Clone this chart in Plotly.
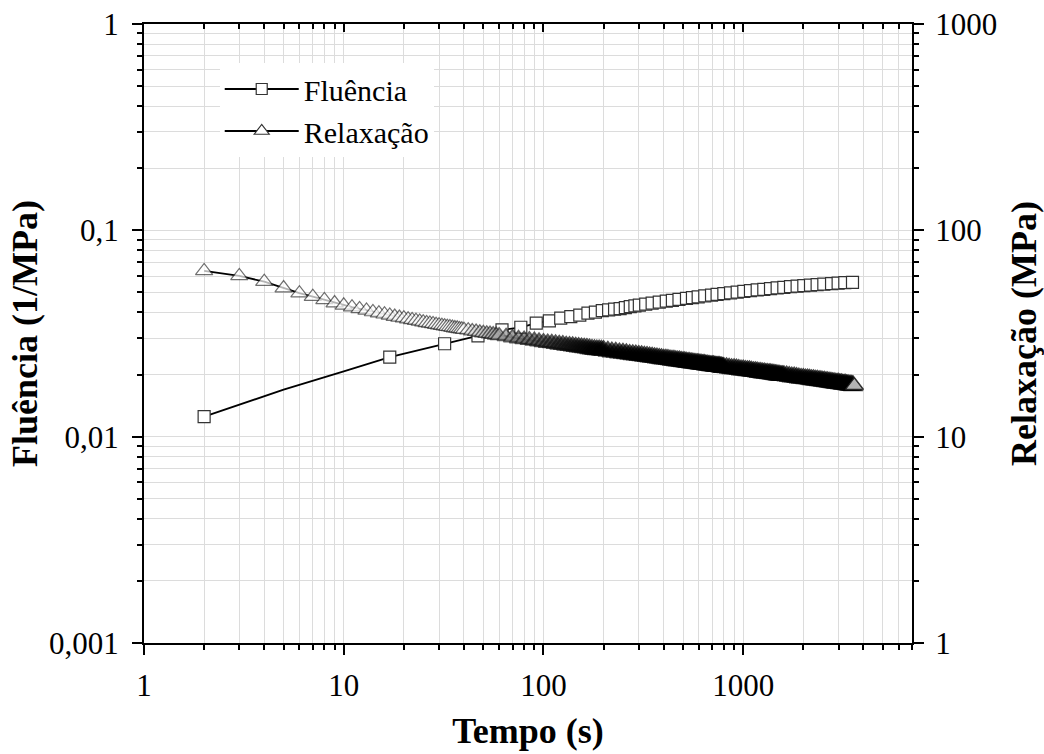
import math
import plotly.graph_objects as go

# ---------------- data ----------------
# Creep (Fluência) – marked points, left axis (1/MPa)
creep_t = [2, 17, 32, 47, 62, 77, 92, 107, 122, 137,
           152, 167, 182, 197, 212, 227, 242, 257, 272, 287,
           302, 325, 350, 380, 412, 442, 477, 520, 557, 595,
           642, 694, 740, 800, 864, 933, 1007, 1087, 1175, 1268,
           1370, 1479, 1597, 1725, 1862, 2011, 2172, 2345, 2533, 2769,
           2987, 3225, 3525]
creep_v = [0.0125, 0.0243, 0.0282, 0.0308, 0.0329, 0.0339, 0.0355, 0.0364, 0.0375, 0.0382,
           0.0388, 0.0397, 0.0401, 0.0408, 0.0412, 0.0415, 0.0417, 0.0422, 0.0427, 0.0430,
           0.0434, 0.0439, 0.0444, 0.0449, 0.0454, 0.0458, 0.0463, 0.0468, 0.0472, 0.0476,
           0.0481, 0.0485, 0.0489, 0.0494, 0.0498, 0.0502, 0.0506, 0.0510, 0.0514, 0.0518,
           0.0522, 0.0526, 0.0529, 0.0533, 0.0536, 0.0539, 0.0543, 0.0546, 0.0549, 0.0552,
           0.0555, 0.0558, 0.0560]
# extra unmarked points of the creep curve (line only)
creep_extra_t = [5, 10]
creep_extra_v = [0.0169, 0.0207]

# Relaxation (Relaxação) – right axis (MPa)
relax_t = [2, 3, 4, 5, 6, 7, 8, 9, 10,
           11, 12, 13, 14, 15, 16, 17, 18, 19, 20,
           21, 22, 23, 24, 25, 26, 27, 28, 29, 30,
           31, 32, 33, 34, 35, 36, 37, 38, 39, 40,
           42, 44, 46, 48, 50, 52, 54, 56, 58, 60,
           65, 70, 75, 80, 85, 90, 95, 100,
           105, 110, 115, 120, 125, 130, 135, 140, 145, 150,
           155, 160, 165, 170, 175, 180, 185, 190, 195, 200,
           210, 220, 230, 240, 250, 260, 270, 280, 290, 300,
           310, 320, 330, 340, 350, 360, 370, 380, 390, 400,
           410, 420, 430, 440, 450, 460, 470, 480, 490, 500,
           510, 520, 530, 540, 550, 560, 570, 580, 590, 600,
           610, 620, 630, 640, 650, 660, 670, 680, 690, 700,
           710, 720, 730, 740, 750, 760, 770, 780, 790, 800,
           825, 850, 875, 900, 925, 950, 975, 1000,
           1025, 1050, 1075, 1100, 1125, 1150, 1175, 1200,
           1225, 1250, 1275, 1300, 1325, 1350, 1375, 1400,
           1425, 1450, 1475, 1500, 1525, 1550, 1575, 1600,
           1650, 1700, 1750, 1800, 1850, 1900, 1950, 2000, 2050, 2100,
           2150, 2200, 2250, 2300, 2350, 2400, 2450, 2500, 2550, 2600,
           2650, 2700, 2750, 2800, 2850, 2900, 2950, 3000, 3050, 3100,
           3150, 3200, 3250, 3300, 3350, 3400, 3450, 3500, 3550, 3600]
relax_r = [63.6, 60.1, 56.4, 52.5, 49.6, 47.7, 46.0, 44.4, 43.3,
           42.4, 41.6, 40.9, 40.2, 39.7, 39.2, 38.7, 38.2, 37.8, 37.5,
           37.1, 36.8, 36.5, 36.2, 35.9, 35.6, 35.4, 35.2, 34.9, 34.7,
           34.5, 34.3, 34.1, 34.0, 33.8, 33.6, 33.5, 33.3, 33.2, 33.0,
           32.8, 32.5, 32.3, 32.0, 31.8, 31.6, 31.5, 31.3, 31.1, 30.9,
           30.6, 30.2, 29.9, 29.6, 29.4, 29.2, 28.9, 28.7,
           28.5, 28.4, 28.2, 28.0, 27.9, 27.7, 27.6, 27.5, 27.3, 27.2,
           27.1, 27.0, 26.9, 26.7, 26.6, 26.5, 26.4, 26.4, 26.3, 26.2,
           26.0, 25.8, 25.7, 25.5, 25.4, 25.3, 25.1, 25.0, 24.9, 24.8,
           24.7, 24.6, 24.5, 24.4, 24.3, 24.2, 24.1, 24.0, 23.9, 23.8,
           23.8, 23.7, 23.6, 23.5, 23.5, 23.4, 23.3, 23.3, 23.2, 23.1,
           23.1, 23.0, 22.9, 22.9, 22.8, 22.8, 22.7, 22.7, 22.6, 22.6,
           22.5, 22.5, 22.4, 22.4, 22.3, 22.3, 22.2, 22.2, 22.1, 22.1,
           22.1, 22.0, 22.0, 21.9, 21.9, 21.9, 21.8, 21.8, 21.7, 21.7,
           21.6, 21.5, 21.4, 21.4, 21.3, 21.2, 21.1, 21.1,
           21.0, 20.9, 20.9, 20.8, 20.7, 20.7, 20.6, 20.5,
           20.5, 20.4, 20.4, 20.3, 20.3, 20.2, 20.2, 20.1,
           20.1, 20.0, 20.0, 19.9, 19.9, 19.8, 19.8, 19.8,
           19.7, 19.6, 19.5, 19.5, 19.4, 19.3, 19.2, 19.2, 19.1, 19.1,
           19.0, 18.9, 18.9, 18.8, 18.8, 18.7, 18.7, 18.6, 18.6, 18.5,
           18.5, 18.4, 18.4, 18.3, 18.3, 18.2, 18.2, 18.2, 18.1, 18.1,
           18.0, 18.0, 18.0, 17.9, 17.9, 17.8, 17.8, 17.8, 17.7, 17.7]

# axis ticks / labels
x_ticks = [1, 10, 100, 1000]
x_labels = ["1", "10", "100", "1000"]
y_ticks = [0.001, 0.01, 0.1, 1]
y_labels = ["0,001", "0,01", "0,1", "1"]
y2_ticks = [1, 10, 100, 1000]
y2_labels = ["1", "10", "100", "1000"]
x_max = 7000

series_names = ["Fluência", "Relaxação"]

# ---------------- figure ----------------
FONT = "Liberation Serif"
GRID = "#dcdcdc"
MK_LINE = "#333333"

line_pts = sorted(zip(creep_t + creep_extra_t, creep_v + creep_extra_v))
lt = [p[0] for p in line_pts]
lv = [p[1] for p in line_pts]

# relaxation marker styling: in the reference the densely overlapping markers
# merge into a solid dark band, so fill / outline darken and thicken with density;
# the final marker stays white.
n_r = len(relax_t)
lo, hi = math.log10(40), math.log10(200)
r_col, r_size, r_lw, r_lc = [], [], [], []
for i, t in enumerate(relax_t):
    if i == n_r - 1:
        f = 0.0
    else:
        f = min(max((math.log10(t) - lo) / (hi - lo), 0.0), 1.0)
    g = int(round(255 * (1 - f) ** 1.5))
    r_col.append(f"rgb({g},{g},{g})")
    r_size.append(15 + 2 * f)
    r_lw.append(1.2 + 1.6 * f)
    lc = int(round(51 * (1 - f)))
    r_lc.append(f"rgb({lc},{lc},{lc})")

fig = go.Figure()
fig.add_trace(go.Scatter(x=lt, y=lv, mode="lines", line=dict(color="black", width=1.8),
                         showlegend=False, hoverinfo="skip"))
fig.add_trace(go.Scatter(x=creep_t, y=creep_v, mode="markers",
                         marker=dict(symbol="square", size=12, color="white",
                                     line=dict(color=MK_LINE, width=1.2)),
                         showlegend=False))
fig.add_trace(go.Scatter(x=relax_t, y=relax_r, mode="lines+markers", yaxis="y2",
                         line=dict(color="black", width=1.8),
                         marker=dict(symbol="triangle-up", size=r_size, color=r_col,
                                     line=dict(color=r_lc, width=r_lw)),
                         showlegend=False))
# legend entries
fig.add_trace(go.Scatter(x=[None], y=[None], xaxis="x2", mode="lines+markers", name=series_names[0],
                         line=dict(color="black", width=1.8),
                         marker=dict(symbol="square", size=11, color="white",
                                     line=dict(color=MK_LINE, width=1.2))))
fig.add_trace(go.Scatter(x=[None], y=[None], xaxis="x2", mode="lines+markers", name=series_names[1],
                         line=dict(color="black", width=1.8),
                         marker=dict(symbol="triangle-up", size=13, color="white",
                                     line=dict(color=MK_LINE, width=1.2))))

minor_x = [m * 10 ** d for d in range(0, 4) for m in range(2, 10) if m * 10 ** d <= x_max]
minor_y = [m * 10.0 ** d for d in range(-3, 0) for m in range(2, 10)]
minor_y2 = [m * 10 ** d for d in range(0, 3) for m in range(2, 10)]

tickfont = dict(family=FONT, size=31, color="black")
titlefont = dict(family=FONT, size=36, color="black", weight="bold")

common = dict(type="log", showline=True, linecolor="black", linewidth=2,
              ticks="outside", ticklen=10, tickwidth=2, tickcolor="black",
              zeroline=False, tickfont=tickfont, automargin=False)

fig.update_layout(
    width=1044, height=754,
    margin=dict(l=144, r=132, t=24, b=111),
    paper_bgcolor="white", plot_bgcolor="white",
    font=dict(family=FONT, color="black"),
    showlegend=True,
    legend=dict(x=0.0986, y=0.937, xanchor="left", yanchor="top", bgcolor="white",
                font=dict(family=FONT, size=30, color="black"), itemwidth=74,
                tracegroupgap=0),
    xaxis=dict(**common, range=[0, math.log10(x_max)],
               tickmode="array", tickvals=x_ticks, ticktext=x_labels,
               ticklabelstandoff=4,
               showgrid=True, gridcolor=GRID, gridwidth=1,
               minor=dict(tickmode="array", tickvals=minor_x, ticks="outside", ticklen=5,
                          tickwidth=1.5, tickcolor="black", showgrid=True, gridcolor=GRID, gridwidth=1),
               title=dict(text="Tempo (s)", font=titlefont, standoff=16)),
    xaxis2=dict(type="log", overlaying="x", side="top", anchor="y", range=[0, math.log10(x_max)],
                showline=True, linecolor="black", linewidth=2, ticks="inside", ticklen=8,
                tickwidth=2, tickcolor="black", tickmode="array", tickvals=x_ticks,
                showticklabels=False, showgrid=False, zeroline=False, automargin=False,
                minor=dict(tickmode="array", tickvals=minor_x, ticks="inside", ticklen=5,
                           tickwidth=1.5, tickcolor="black", showgrid=False)),
    yaxis=dict(**common, range=[-3, 0],
               tickmode="array", tickvals=y_ticks, ticktext=y_labels,
               ticklabelstandoff=7,
               showgrid=True, gridcolor=GRID, gridwidth=1,
               minor=dict(tickmode="array", tickvals=minor_y, ticks="outside", ticklen=5,
                          tickwidth=1.5, tickcolor="black", showgrid=True, gridcolor=GRID, gridwidth=1),
               title=dict(text="Fluência (1/MPa)", font=titlefont, standoff=0)),
    yaxis2=dict(**common, range=[0, 3], overlaying="y", side="right", anchor="x",
                tickmode="array", tickvals=y2_ticks, ticktext=y2_labels, showgrid=False,
                ticklabelstandoff=5,
                minor=dict(tickmode="array", tickvals=minor_y2, ticks="outside", ticklen=5,
                           tickwidth=1.5, tickcolor="black", showgrid=False),
                title=dict(text="Relaxação (MPa)", font=titlefont, standoff=16)),
)

fig.write_html("out.html", config={"displayModeBar": False},
               post_script="document.body.style.margin='0';")
